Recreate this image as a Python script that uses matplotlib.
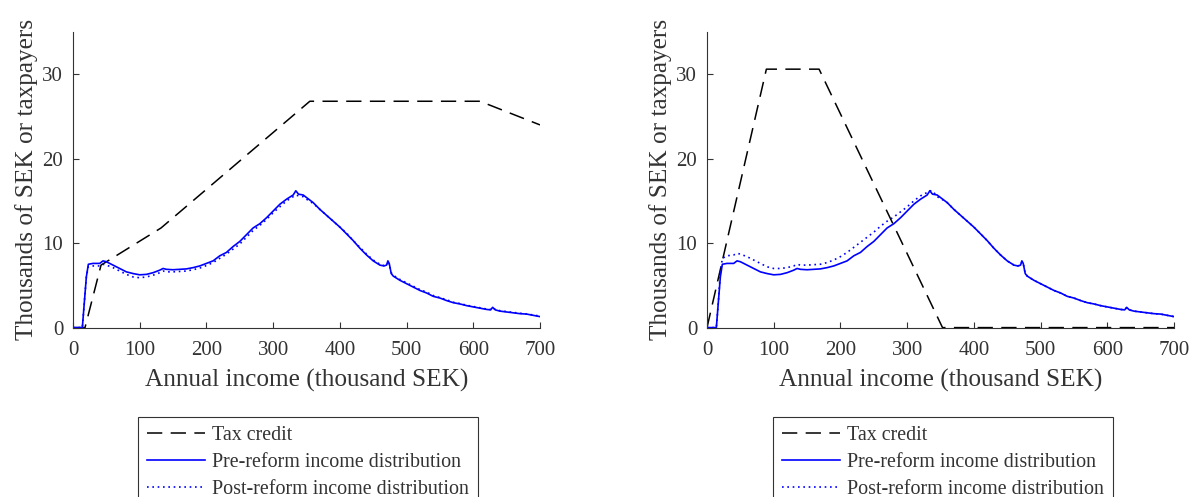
import matplotlib
matplotlib.use("Agg")
import matplotlib.pyplot as plt

# income grid (thousand SEK) for the distribution curves
income = [0, 10, 14, 17, 20, 23, 30, 40, 45, 50,
          60, 70, 80, 90, 100, 110, 120, 130, 135, 140,
          150, 160, 170, 180, 190, 200, 210, 220, 230, 240,
          250, 260, 270, 280, 290, 300, 310, 320, 330, 334,
          338, 345, 350, 360, 370, 380, 390, 400, 410, 420,
          430, 440, 450, 460, 466, 470, 472, 474, 477, 480,
          490, 500, 510, 520, 530, 540, 550, 560, 570, 580,
          590, 600, 610, 620, 626, 629, 633, 640, 650, 660,
          670, 680, 690, 700]

pre_reform = [0, 0, 0, 3, 6.0, 7.5, 7.6, 7.6, 7.9, 7.8,
              7.4, 7.0, 6.6, 6.4, 6.25, 6.3, 6.5, 6.8, 7.0, 6.9,
              6.85, 6.9, 6.95, 7.1, 7.3, 7.6, 7.9, 8.5, 8.9, 9.6,
              10.2, 11.0, 11.8, 12.3, 13.0, 13.8, 14.6, 15.2, 15.7, 16.2,
              15.8, 15.7, 15.4, 14.8, 14.0, 13.3, 12.6, 11.9, 11.1, 10.3,
              9.4, 8.6, 7.9, 7.4, 7.3, 7.4, 7.9, 7.6, 6.4, 6.1,
              5.6, 5.2, 4.8, 4.4, 4.1, 3.7, 3.5, 3.2, 2.95, 2.8,
              2.6, 2.45, 2.3, 2.15, 2.1, 2.4, 2.1, 1.95, 1.85, 1.75,
              1.65, 1.6, 1.45, 1.3]

post_reform_left = [0, 0, 0, 3, 6.0, 7.2, 7.3, 7.3, 7.5, 7.4,
                    7.1, 6.7, 6.3, 6.0, 5.9, 6.0, 6.2, 6.5, 6.7, 6.6,
                    6.6, 6.65, 6.7, 6.85, 7.05, 7.35, 7.7, 8.2, 8.7, 9.3,
                    9.9, 10.7, 11.5, 12.1, 12.8, 13.6, 14.3, 15.0, 15.5, 15.7,
                    15.6, 15.5, 15.2, 14.7, 14.0, 13.3, 12.6, 11.9, 11.2, 10.3,
                    9.5, 8.7, 8.0, 7.5, 7.35, 7.4, 7.6, 7.5, 6.5, 6.2,
                    5.7, 5.3, 4.9, 4.5, 4.2, 3.8, 3.55, 3.3, 3.0, 2.85,
                    2.65, 2.5, 2.35, 2.2, 2.15, 2.35, 2.15, 2.0, 1.9, 1.8,
                    1.7, 1.6, 1.5, 1.35]

post_reform_right = [0, 0, 0, 3, 6.5, 8.2, 8.5, 8.6, 8.8, 8.7,
                     8.4, 8.0, 7.6, 7.2, 7.0, 7.0, 7.1, 7.3, 7.5, 7.4,
                     7.4, 7.45, 7.5, 7.7, 8.0, 8.4, 8.9, 9.5, 10.1, 10.7,
                     11.3, 12.0, 12.6, 13.1, 13.7, 14.3, 15.0, 15.6, 16.0, 16.2,
                     16.2, 15.5, 15.3, 14.8, 14.0, 13.3, 12.6, 11.9, 11.1, 10.3,
                     9.4, 8.6, 7.9, 7.4, 7.3, 7.4, 7.8, 7.6, 6.4, 6.1,
                     5.6, 5.2, 4.8, 4.4, 4.1, 3.7, 3.5, 3.2, 2.95, 2.8,
                     2.6, 2.45, 2.3, 2.15, 2.1, 2.35, 2.1, 1.95, 1.85, 1.75,
                     1.65, 1.6, 1.45, 1.3]

# tax credit schedules (kink points)
credit_x_left = [0, 18, 42, 132, 355, 610, 700]
credit_y_left = [0, 0, 7.4, 11.8, 26.8, 26.8, 24.0]
credit_x_right = [0, 89, 168, 353, 700]
credit_y_right = [0, 30.6, 30.6, 0, 0]

labels = ["Tax credit", "Pre-reform income distribution", "Post-reform income distribution"]

plt.rcParams["font.family"] = ["Liberation Serif", "DejaVu Serif"]
text_col = "#333333"

fig = plt.figure(figsize=(11.93, 4.97), dpi=100)
W, H = 1193, 497

panels = [
    (73, credit_x_left, credit_y_left, post_reform_left, 138),
    (707, credit_x_right, credit_y_right, post_reform_right, 773),
]

for left_px, cx, cy, post, leg_px in panels:
    ax = fig.add_axes([left_px / W, (H - 327.6) / H, 467 / W, (327.6 - 32) / H])
    l1, = ax.plot(cx, cy, color="black", lw=1.1, dashes=(10, 5.5))
    l2, = ax.plot(income, pre_reform, color="#0000ff", lw=1.2)
    l3, = ax.plot(income, post, color="#0000ff", lw=1.2, linestyle=(0, (1, 2.2)))
    ax.set_xlim(0, 700)
    ax.set_ylim(0, 35)
    ax.set_xticks(range(0, 701, 100))
    ax.set_yticks([0, 10, 20, 30])
    for s in ["top", "right"]:
        ax.spines[s].set_visible(False)
    for s in ["left", "bottom"]:
        ax.spines[s].set_color(text_col)
        ax.spines[s].set_linewidth(0.8)
    ax.tick_params(direction="in", length=4, width=0.8, color=text_col,
                   labelsize=15, labelcolor=text_col)
    ax.tick_params(axis="x", pad=9.5)
    ax.tick_params(axis="y", pad=7)
    ax.set_xlabel("Annual income (thousand SEK)", fontsize=18.2, color=text_col, labelpad=6.5)
    ax.set_ylabel("Thousands of SEK or taxpayers", fontsize=18.2, color=text_col, labelpad=3)

    leg = fig.legend([l1, l2, l3], labels, loc="upper left",
                     bbox_to_anchor=(leg_px / W, 1 - 417 / H),
                     fontsize=14.4, frameon=True, fancybox=False,
                     handlelength=2.9, handletextpad=0.35, labelspacing=0.4,
                     borderpad=0.45, borderaxespad=0)
    leg.get_frame().set_edgecolor("black")
    leg.get_frame().set_linewidth(0.8)
    for t in leg.get_texts():
        t.set_color(text_col)

fig.savefig("out.png", dpi=100)
